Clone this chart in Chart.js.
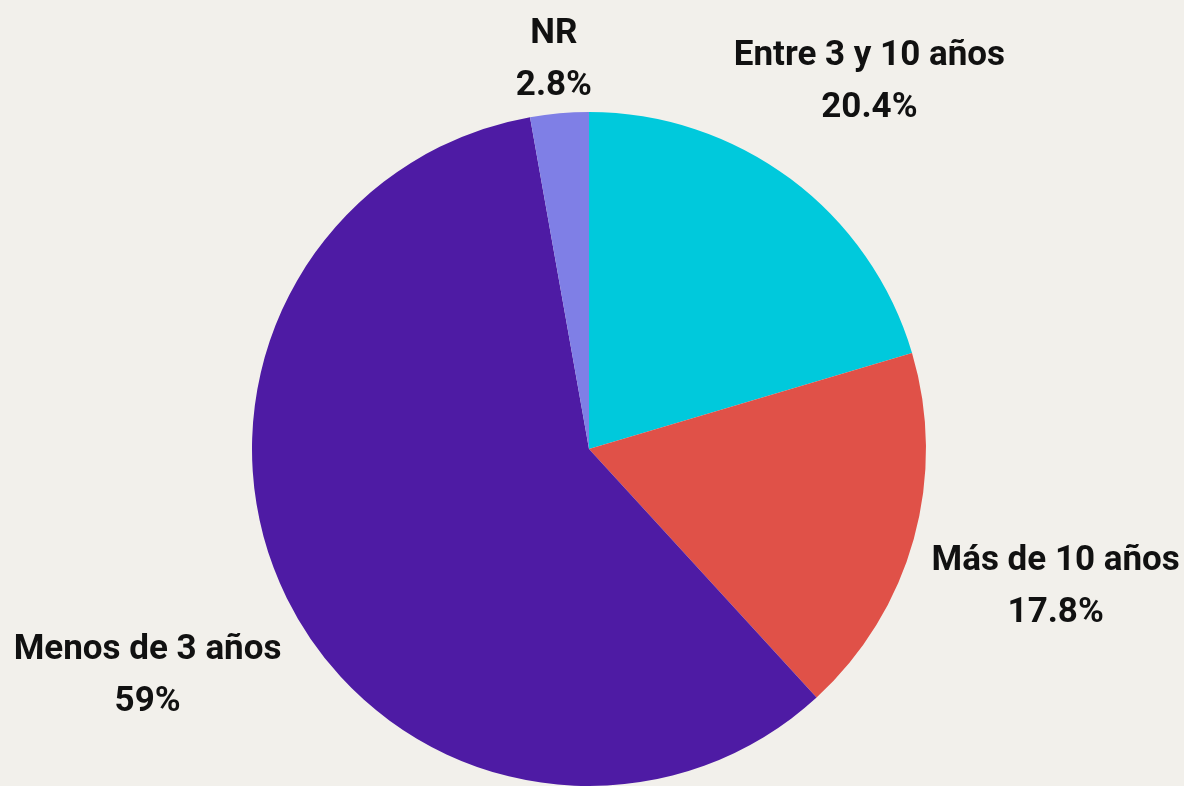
<!DOCTYPE html>
<html>
<head>
<meta charset="utf-8">
<script src="https://cdn.jsdelivr.net/npm/chart.js@4/dist/chart.umd.min.js"></script>
<style>
  html, body { margin: 0; padding: 0; background: #f2f0eb; }
  #wrap { width: 1184px; height: 786px; position: relative; }
</style>
</head>
<body>
<div id="wrap"><canvas id="pieChart"></canvas></div>
<script>
// datos del gráfico
const categories = ['Entre 3 y 10 años', 'Más de 10 años', 'Menos de 3 años', 'NR'];
const values = [20.4, 17.8, 59, 2.8];
const valueLabels = ['20.4%', '17.8%', '59%', '2.8%'];
const colors = ['#00c9dc', '#e05148', '#4e1ba4', '#7f7fe6'];

// etiquetas fuera de cada porción
const outsideLabels = {
    id: 'outsideLabels',
    afterDraw(chart) {
        const ctx = chart.ctx;
        const meta = chart.getDatasetMeta(0);
        const fontSize = 35, lineH = 52, gap = 16, shiftY = 9;
        ctx.save();
        ctx.font = 'bold ' + fontSize + 'px Roboto, "DejaVu Sans", sans-serif';
        ctx.fillStyle = '#111111';
        ctx.textAlign = 'center';
        ctx.textBaseline = 'middle';
        meta.data.forEach((arc, i) => {
            const p = arc.getProps(['x', 'y', 'startAngle', 'endAngle', 'outerRadius'], true);
            const mid = (p.startAngle + p.endAngle) / 2;
            const lines = [categories[i], valueLabels[i]];
            const w = Math.max(...lines.map(t => ctx.measureText(t).width));
            const h = lineH + fontSize;
            const cos = Math.cos(mid), sin = Math.sin(mid);
            const d = p.outerRadius + gap + Math.abs(cos) * w / 2 + Math.abs(sin) * h / 2;
            const cx = p.x + cos * d, cy = p.y + sin * d + shiftY;
            ctx.fillText(lines[0], cx, cy - lineH / 2);
            ctx.fillText(lines[1], cx, cy + lineH / 2);
        });
        ctx.restore();
    }
};

const ctx = document.getElementById('pieChart').getContext('2d');
new Chart(ctx, {
    type: 'pie',
    data: {
        labels: categories,
        datasets: [{
            data: values,
            backgroundColor: colors,
            borderWidth: 0
        }]
    },
    options: {
        responsive: true,
        maintainAspectRatio: false,
        animation: false,
        layout: { padding: { left: 251, right: 257, top: 112, bottom: 0 } },
        plugins: {
            legend: { display: false },
            tooltip: { enabled: false }
        }
    },
    plugins: [outsideLabels]
});
</script>
</body>
</html>
